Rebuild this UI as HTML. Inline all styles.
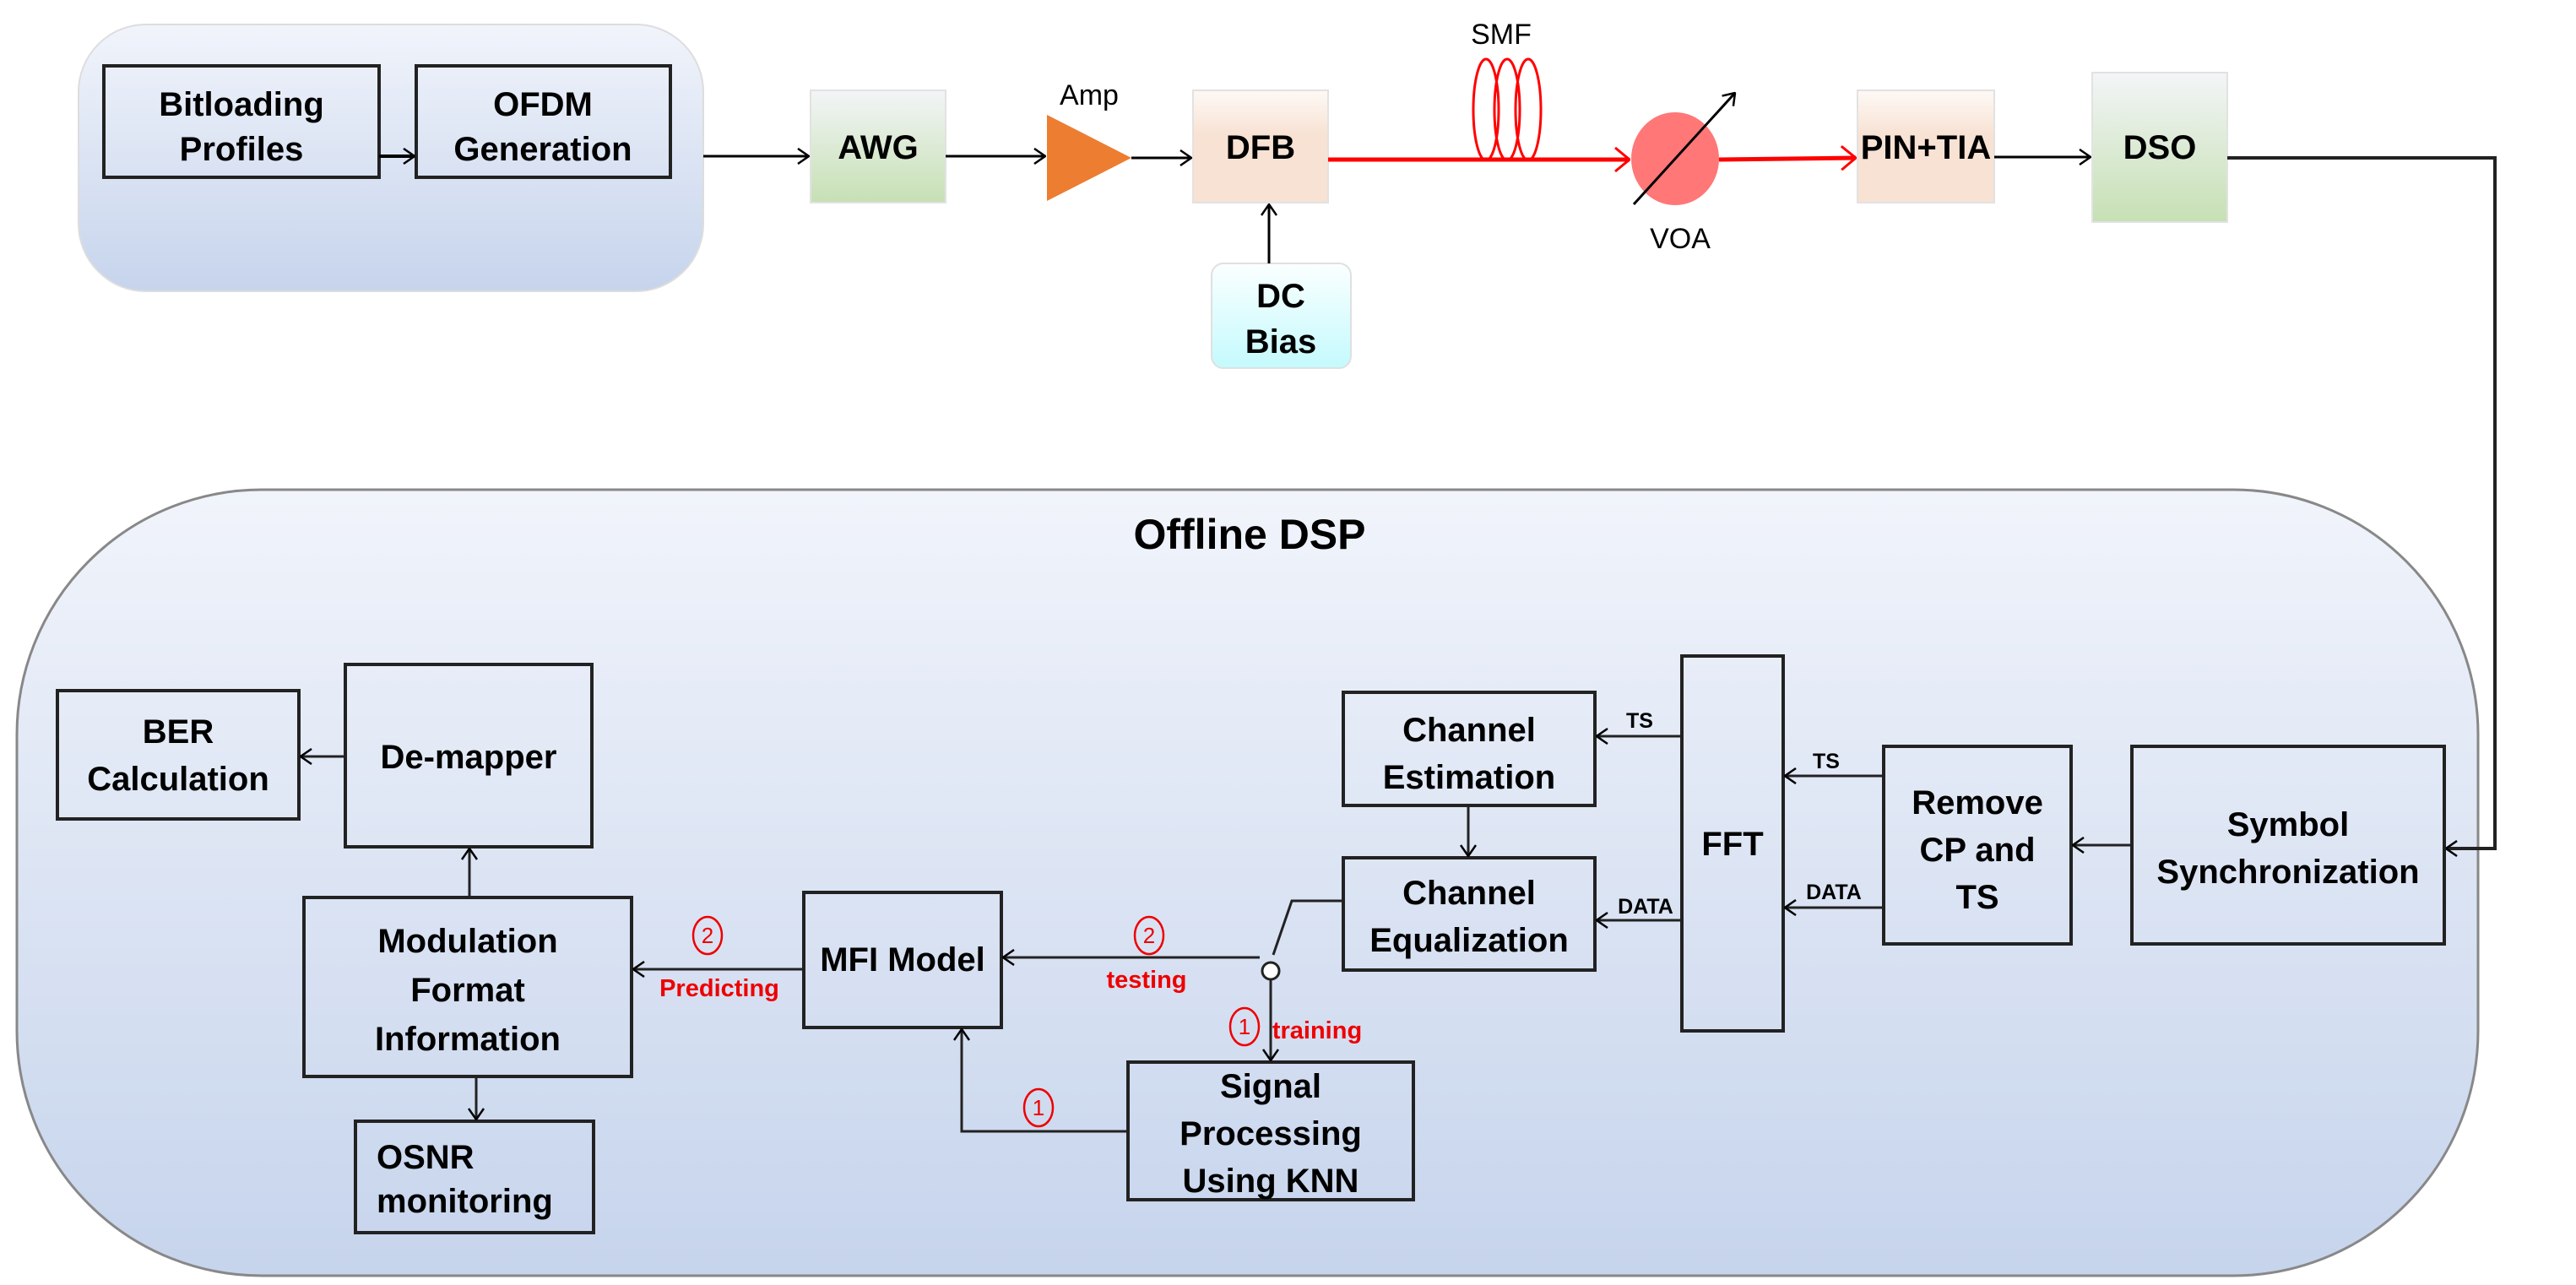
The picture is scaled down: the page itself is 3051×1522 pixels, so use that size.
<!DOCTYPE html>
<html><head><meta charset="utf-8"><style>
html,body{margin:0;padding:0;background:#fff;}
svg{display:block;}
text{font-family:"Liberation Sans",sans-serif;}
.b{font-weight:bold;font-size:40px;fill:#000;text-anchor:middle;}
.bl{font-weight:bold;font-size:40px;fill:#000;text-anchor:start;}
.r{fill:#e00;font-size:29px;font-weight:bold;text-anchor:middle;}
</style></head><body>
<svg width="3051" height="1522" viewBox="0 0 3051 1522" xmlns="http://www.w3.org/2000/svg">
<defs>
<linearGradient id="bg" x1="0" y1="0" x2="0" y2="1"><stop offset="0" stop-color="#f1f4fb"/><stop offset="1" stop-color="#c6d4ec"/></linearGradient>
<linearGradient id="gr" x1="0" y1="0" x2="0" y2="1"><stop offset="0" stop-color="#f3f5f7"/><stop offset="1" stop-color="#c6e0b4"/></linearGradient>
<linearGradient id="pe" x1="0" y1="0" x2="0" y2="1"><stop offset="0" stop-color="#fdf9f6"/><stop offset="0.4" stop-color="#f8e2d3"/><stop offset="1" stop-color="#f8e2d3"/></linearGradient>
<linearGradient id="cy" x1="0" y1="0" x2="0" y2="1"><stop offset="0" stop-color="#fbffff"/><stop offset="1" stop-color="#c4fafd"/></linearGradient>
<marker id="a" viewBox="0 0 20 20" refX="19" refY="10" markerWidth="20" markerHeight="20" markerUnits="userSpaceOnUse" orient="auto"><path d="M6 1 L19 10 L6 19" fill="none" stroke="#000" stroke-width="2.5"/></marker>
<marker id="ar" viewBox="0 0 24 30" refX="23" refY="15" markerWidth="24" markerHeight="30" markerUnits="userSpaceOnUse" orient="auto"><path d="M6 1 L23 15 L6 29" fill="none" stroke="#f00" stroke-width="3"/></marker>
</defs>

<rect x="93" y="29" width="740" height="316" rx="80" fill="url(#bg)" stroke="#ddd" stroke-width="2"/>
<rect x="123" y="78" width="326" height="132" fill="none" stroke="#222" stroke-width="4"/>
<text class="b" x="286" y="137">Bitloading</text><text class="b" x="286" y="190">Profiles</text>
<rect x="493" y="78" width="301" height="132" fill="none" stroke="#222" stroke-width="4"/>
<text class="b" x="643" y="137">OFDM</text><text class="b" x="643" y="190">Generation</text>
<line x1="449" y1="185" x2="491" y2="185" stroke="#000" stroke-width="4" marker-end="url(#a)"/>

<line x1="833" y1="185" x2="958" y2="185" stroke="#000" stroke-width="3" marker-end="url(#a)"/>
<rect x="960" y="107" width="160" height="133" fill="url(#gr)" stroke="#e2e2e2" stroke-width="2"/>
<text class="b" x="1040" y="188">AWG</text>
<line x1="1120" y1="185" x2="1238" y2="185" stroke="#000" stroke-width="3" marker-end="url(#a)"/>
<polygon points="1240,136 1340,187 1240,238" fill="#ed7d31"/>
<text x="1290" y="124" font-size="34" text-anchor="middle" fill="#000">Amp</text>
<line x1="1340" y1="187" x2="1411" y2="187" stroke="#000" stroke-width="3" marker-end="url(#a)"/>
<rect x="1413" y="107" width="160" height="133" fill="url(#pe)" stroke="#e2e2e2" stroke-width="2"/>
<text class="b" x="1493" y="188">DFB</text>
<rect x="1435" y="312" width="165" height="124" rx="14" fill="url(#cy)" stroke="#e0e0e0" stroke-width="2"/>
<text class="b" x="1517" y="364">DC</text><text class="b" x="1517" y="418">Bias</text>
<line x1="1503" y1="312" x2="1503" y2="242" stroke="#000" stroke-width="3" marker-end="url(#a)"/>

<line x1="1573" y1="189" x2="1930" y2="189" stroke="#f00" stroke-width="5" marker-end="url(#ar)"/>
<g fill="none" stroke="#f00" stroke-width="3">
<ellipse cx="1760" cy="130" rx="15" ry="60"/><ellipse cx="1785" cy="130" rx="15" ry="60"/><ellipse cx="1810" cy="130" rx="15" ry="60"/>
</g>
<text x="1778" y="52" font-size="34" text-anchor="middle">SMF</text>
<ellipse cx="1984" cy="188" rx="52" ry="55" fill="#f77"/>
<line x1="1935" y1="242" x2="2055" y2="110" stroke="#000" stroke-width="3" marker-end="url(#a)"/>
<text x="1990" y="294" font-size="34" text-anchor="middle">VOA</text>
<line x1="2036" y1="189" x2="2198" y2="187" stroke="#f00" stroke-width="5" marker-end="url(#ar)"/>
<rect x="2200" y="107" width="162" height="133" fill="url(#pe)" stroke="#e2e2e2" stroke-width="2"/>
<text class="b" x="2281" y="188" font-size="36">PIN+TIA</text>
<line x1="2362" y1="186" x2="2476" y2="186" stroke="#000" stroke-width="3" marker-end="url(#a)"/>
<rect x="2478" y="86" width="160" height="177" fill="url(#gr)" stroke="#e2e2e2" stroke-width="2"/>
<text class="b" x="2558" y="188">DSO</text>

<rect x="20" y="580" width="2915" height="931" rx="290" fill="url(#bg)" stroke="#888" stroke-width="3"/>
<polyline points="2638,187 2955,187 2955,1005 2897,1005" fill="none" stroke="#222" stroke-width="4" marker-end="url(#a)"/>
<text x="1480" y="650" font-size="50" font-weight="bold" text-anchor="middle">Offline DSP</text>

<g fill="none" stroke="#222" stroke-width="4">
<rect x="68" y="818" width="286" height="152"/>
<rect x="409" y="787" width="292" height="216"/>
<rect x="360" y="1063" width="388" height="212"/>
<rect x="421" y="1328" width="282" height="132"/>
<rect x="952" y="1057" width="234" height="160"/>
<rect x="1336" y="1258" width="338" height="163"/>
<rect x="1591" y="820" width="298" height="134"/>
<rect x="1591" y="1016" width="298" height="133"/>
<rect x="1992" y="777" width="120" height="444"/>
<rect x="2231" y="884" width="222" height="234"/>
<rect x="2525" y="884" width="370" height="234"/>
</g>
<text class="b" x="211" y="880">BER</text><text class="b" x="211" y="936">Calculation</text>
<text class="b" x="555" y="910">De-mapper</text>
<text class="b" x="554" y="1128">Modulation</text><text class="b" x="554" y="1186">Format</text><text class="b" x="554" y="1244">Information</text>
<text class="bl" x="446" y="1384">OSNR</text>
<text class="bl" x="446" y="1436">monitoring</text>
<text class="b" x="1069" y="1150">MFI Model</text>
<text class="b" x="1505" y="1300">Signal</text><text class="b" x="1505" y="1356">Processing</text><text class="b" x="1505" y="1412">Using KNN</text>
<text class="b" x="1740" y="878">Channel</text><text class="b" x="1740" y="934">Estimation</text>
<text class="b" x="1740" y="1071">Channel</text><text class="b" x="1740" y="1127">Equalization</text>
<text class="b" x="2052" y="1013">FFT</text>
<text class="b" x="2342" y="964">Remove</text><text class="b" x="2342" y="1020">CP and</text><text class="b" x="2342" y="1076">TS</text>
<text class="b" x="2710" y="990">Symbol</text><text class="b" x="2710" y="1046">Synchronization</text>

<g fill="none" stroke="#222" stroke-width="3" marker-end="url(#a)">
<line x1="2525" y1="1001" x2="2455" y2="1001"/>
<line x1="2231" y1="919" x2="2114" y2="919"/>
<line x1="2231" y1="1075" x2="2114" y2="1075"/>
<line x1="1992" y1="872" x2="1891" y2="872"/>
<line x1="1992" y1="1090" x2="1891" y2="1090"/>
<line x1="1739" y1="954" x2="1739" y2="1014"/>
<line x1="1492" y1="1134" x2="1188" y2="1134"/>
<line x1="1505" y1="1161" x2="1505" y2="1256"/>
<polyline points="1336,1340 1139,1340 1139,1219"/>
<line x1="952" y1="1148" x2="750" y2="1148"/>
<line x1="556" y1="1063" x2="556" y2="1005"/>
<line x1="564" y1="1275" x2="564" y2="1326"/>
<line x1="409" y1="896" x2="356" y2="896"/>
</g>
<polyline points="1591,1067 1530,1067 1508,1131" fill="none" stroke="#222" stroke-width="3"/>
<circle cx="1505" cy="1150" r="10" fill="#fff" stroke="#222" stroke-width="3"/>

<g font-size="25" font-weight="bold" text-anchor="middle">
<text x="1942" y="862">TS</text><text x="1949" y="1082">DATA</text>
<text x="2163" y="910">TS</text><text x="2172" y="1065">DATA</text>
</g>
<g fill="none" stroke="#e00" stroke-width="2.5">
<ellipse cx="1361" cy="1108" rx="17" ry="22"/>
<ellipse cx="838" cy="1108" rx="17" ry="22"/>
<ellipse cx="1474" cy="1216" rx="17" ry="22"/>
<ellipse cx="1230" cy="1312" rx="17" ry="22"/>
</g>
<g fill="#e00" font-size="26" text-anchor="middle">
<text x="1361" y="1117">2</text><text x="838" y="1117">2</text><text x="1474" y="1225">1</text><text x="1230" y="1321">1</text>
</g>
<text class="r" x="1358" y="1170">testing</text>
<text class="r" x="852" y="1180">Predicting</text>
<text class="r" x="1560" y="1230">training</text>
</svg>
</body></html>
